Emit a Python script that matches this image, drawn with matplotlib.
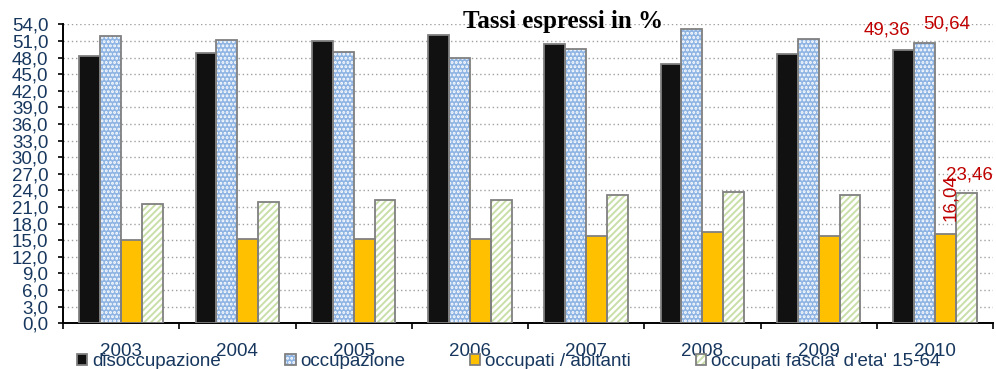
import numpy as np
import matplotlib
matplotlib.use("Agg")
import matplotlib.pyplot as plt
from matplotlib.patches import Patch
from matplotlib.legend_handler import HandlerTuple

years = ["2003", "2004", "2005", "2006", "2007", "2008", "2009", "2010"]
disoccupazione = [48.2, 48.9, 51.0, 52.1, 50.4, 46.8, 48.7, 49.36]
occupazione = [51.8, 51.1, 49.0, 47.9, 49.6, 53.2, 51.3, 50.64]
occupati_abitanti = [15.0, 15.3, 15.2, 15.3, 15.8, 16.5, 15.8, 16.04]
occupati_15_64 = [21.6, 21.9, 22.2, 22.2, 23.2, 23.8, 23.2, 23.46]
series_names = ["disoccupazione", "occupazione", "occupati / abitanti",
                "occupati fascia' d'eta' 15-64"]

text_col = "#17375E"
edge_col = "#808080"
red = "#C00000"
font = "Liberation Sans"

plt.rcParams["font.family"] = [font, "DejaVu Sans"]
plt.rcParams["hatch.linewidth"] = 1.4

fig = plt.figure(figsize=(9.96, 3.69), dpi=100)
ax = fig.add_axes([63 / 996, 1 - 323.3 / 369, 930 / 996, 299 / 369])

x = np.arange(len(years))
w = 0.18
styles = [
    dict(color="#111111", hatch=None, hcol="#111111"),
    dict(color="#8EB4E3", hatch="....", hcol="white"),
    dict(color="#FFC000", hatch=None, hcol="#FFC000"),
    dict(color="white", hatch="/////", hcol="#C9DFA8"),
]
data = [disoccupazione, occupazione, occupati_abitanti, occupati_15_64]
offsets = [-1.5 * w, -0.5 * w, 0.5 * w, 1.5 * w]

for vals, st, off in zip(data, styles, offsets):
    # fill + pattern first, then the grey outline on top
    ax.bar(x + off, vals, w, color=st["color"], edgecolor=st["hcol"],
           hatch=st["hatch"], linewidth=0, zorder=2)
    ax.bar(x + off, vals, w, fill=False, edgecolor=edge_col,
           linewidth=1.3, zorder=3)

# data labels on the last year
i = len(years) - 1
lab = dict(color=red, fontsize=13.5, ha="center", va="center", zorder=5)
ax.text(x[i] + offsets[0] - 0.14, disoccupazione[i] + 3.6,
        f"{disoccupazione[i]:.2f}".replace(".", ","), clip_on=False, **lab)
ax.text(x[i] + offsets[1] + 0.19, occupazione[i] + 3.5,
        f"{occupazione[i]:.2f}".replace(".", ","), clip_on=False, **lab)
ax.text(x[i] + offsets[3] + 0.03, occupati_15_64[i] + 3.4,
        f"{occupati_15_64[i]:.2f}".replace(".", ","), clip_on=False, **lab)
ax.text(x[i] + offsets[2] + 0.045, occupati_abitanti[i] + 6.7,
        f"{occupati_abitanti[i]:.2f}".replace(".", ","), rotation=90,
        clip_on=False, **lab)

ax.set_xlim(-0.5, 7.5)
ax.set_ylim(0, 54)
yt = np.arange(0, 55, 3)
ax.set_yticks(yt)
ax.set_yticklabels([f"{v:.1f}".replace(".", ",") for v in yt])
ax.set_xticks(x)
ax.set_xticklabels(years)
ax.set_xticks(np.arange(-0.5, 8, 1), minor=True)
ax.tick_params(axis="x", which="major", length=0, pad=14,
               labelsize=13.5, labelcolor=text_col)
ax.tick_params(axis="x", which="minor", length=4, width=1.2,
               direction="out", color="black")
ax.tick_params(axis="y", length=3.6, width=1.2, pad=7,
               labelsize=13.5, labelcolor=text_col)

ax.grid(axis="y", color="#A0A0A0", linestyle=(0, (1, 2)), linewidth=1.0)
ax.set_axisbelow(True)
for s in ["top", "right"]:
    ax.spines[s].set_visible(False)
for s in ["left", "bottom"]:
    ax.spines[s].set_linewidth(1.4)
    ax.spines[s].set_color("black")

fig.text(563 / 996, 1 - 28.3 / 369, "Tassi espressi in %", ha="center",
         va="baseline", fontsize=18, fontweight="bold",
         family="Liberation Serif")

# legend keys: patterned fill with a grey outline over it
handles = [(Patch(facecolor=st["color"], edgecolor=st["hcol"],
                  hatch=st["hatch"], linewidth=0),
            Patch(fill=False, edgecolor=edge_col, linewidth=1.3))
           for st in styles]
leg = fig.legend(handles, series_names, loc="lower left",
                 bbox_to_anchor=(77 / 996, -0.004), ncol=4, frameon=False,
                 fontsize=13.5, handlelength=0.55, handleheight=0.55,
                 handletextpad=0.25, columnspacing=3.45, borderpad=0,
                 borderaxespad=0,
                 handler_map={tuple: HandlerTuple(ndivide=1, pad=0)})
for t in leg.get_texts():
    t.set_color(text_col)

fig.savefig("out.png", dpi=100)
